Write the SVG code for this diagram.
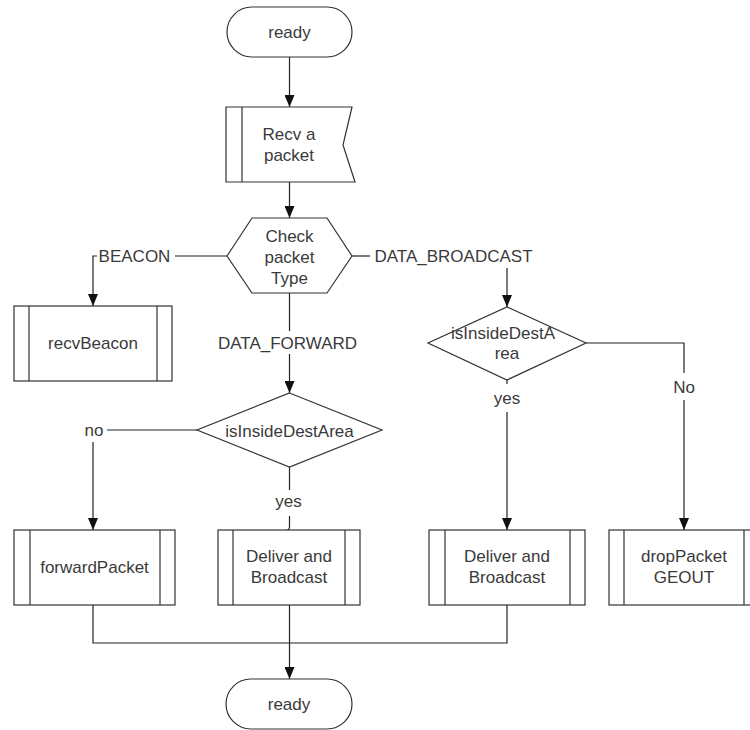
<svg xmlns="http://www.w3.org/2000/svg" width="750" height="730" viewBox="0 0 750 730">
  <style>
    .shape { fill: #ffffff; stroke: #333333; stroke-width: 1.2; }
    .inner { fill: none; stroke: #333333; stroke-width: 1.2; }
    .wire { fill: none; stroke: #222222; stroke-width: 1.2; }
    text { font-family: "Liberation Sans", Arial, sans-serif; font-size: 17px; fill: #3a3a3a; text-anchor: middle; }
  </style>
  <defs>
    <marker id="down" markerUnits="userSpaceOnUse" markerWidth="10" markerHeight="12" viewBox="0 0 10 12" refX="5" refY="12" orient="0">
      <path d="M0,0 L10,0 L5,12 Z" fill="#111111"/>
    </marker>
  </defs>

  <rect width="750" height="730" fill="#ffffff"/>

  <!-- connectors -->
  <g id="connectors">
    <path class="wire" d="M289.5,57 V107" marker-end="url(#down)"/>
    <path class="wire" d="M289.5,182 V218" marker-end="url(#down)"/>
    <!-- BEACON branch -->
    <path class="wire" d="M227,256 H175"/>
    <path class="wire" d="M97,256 H93 V306" marker-end="url(#down)"/>
    <!-- DATA_BROADCAST branch -->
    <path class="wire" d="M352,256 H370"/>
    <path class="wire" d="M507,268 V307" marker-end="url(#down)"/>
    <!-- DATA_FORWARD branch -->
    <path class="wire" d="M289.5,293 V331"/>
    <path class="wire" d="M289.5,354 V393" marker-end="url(#down)"/>
    <!-- no -->
    <path class="wire" d="M197,430 H107"/>
    <path class="wire" d="M93,442 V530" marker-end="url(#down)"/>
    <!-- yes (left) -->
    <path class="wire" d="M289.5,467 V490"/>
    <path class="wire" d="M289.5,516 V527 Q289.5,530.5 285,530.5"/>
    <!-- yes (right) -->
    <path class="wire" d="M507,380 V384"/>
    <path class="wire" d="M507,412 V530" marker-end="url(#down)"/>
    <!-- No (right) -->
    <path class="wire" d="M586,343 H684 V373"/>
    <path class="wire" d="M684,400 V530" marker-end="url(#down)"/>
    <!-- merge to ready -->
    <path class="wire" d="M93,605 V643 H507 V605"/>
    <path class="wire" d="M289.5,605 V679" marker-end="url(#down)"/>
  </g>

  <!-- connector labels -->
  <g id="labels">
    <text x="134.5" y="262">BEACON</text>
    <text x="453.5" y="262">DATA_BROADCAST</text>
    <text x="287.5" y="348.5">DATA_FORWARD</text>
    <text x="94" y="436">no</text>
    <text x="288.5" y="507">yes</text>
    <text x="507" y="404">yes</text>
    <text x="684" y="393">No</text>
  </g>

  <g id="ready-start">
    <rect class="shape" x="227" y="7" width="125" height="50" rx="25"/>
    <text x="289.5" y="38">ready</text>
  </g>

  <g id="recv-packet">
    <path class="shape" d="M226,107 H352 L343,145 L355,182 H226 Z"/>
    <line class="inner" x1="242" y1="107" x2="242" y2="182"/>
    <text x="289" y="140">Recv a</text>
    <text x="289" y="161">packet</text>
  </g>

  <g id="check-type">
    <path class="shape" d="M227,256 L252,218 H327 L352,256 L327,293 H252 Z"/>
    <text x="289.5" y="241.5">Check</text>
    <text x="289.5" y="262.5">packet</text>
    <text x="289.5" y="283.5">Type</text>
  </g>

  <g id="recv-beacon">
    <rect class="shape" x="14" y="306" width="158" height="75"/>
    <line class="inner" x1="29" y1="306" x2="29" y2="381"/>
    <line class="inner" x1="157" y1="306" x2="157" y2="381"/>
    <text x="93" y="349">recvBeacon</text>
  </g>

  <g id="inside-forward">
    <path class="shape" d="M289.5,393 L382,430 L289.5,467 L197,430 Z"/>
    <text x="289.5" y="437">isInsideDestArea</text>
  </g>

  <g id="inside-broadcast">
    <path class="shape" d="M507,307 L586,343 L507,380 L428,343 Z"/>
    <text x="503" y="339">isInsideDestA</text>
    <text x="507" y="359">rea</text>
  </g>

  <g id="forward-packet">
    <rect class="shape" x="14" y="530" width="161" height="75"/>
    <line class="inner" x1="30" y1="530" x2="30" y2="605"/>
    <line class="inner" x1="160" y1="530" x2="160" y2="605"/>
    <text x="94.5" y="573">forwardPacket</text>
  </g>

  <g id="deliver-forward">
    <rect class="shape" x="218" y="530" width="142" height="75"/>
    <line class="inner" x1="233" y1="530" x2="233" y2="605"/>
    <line class="inner" x1="345" y1="530" x2="345" y2="605"/>
    <text x="289" y="562">Deliver and</text>
    <text x="289" y="583">Broadcast</text>
  </g>

  <g id="deliver-broadcast">
    <rect class="shape" x="429" y="530" width="156" height="75"/>
    <line class="inner" x1="445" y1="530" x2="445" y2="605"/>
    <line class="inner" x1="570" y1="530" x2="570" y2="605"/>
    <text x="507" y="562">Deliver and</text>
    <text x="507" y="583">Broadcast</text>
  </g>

  <g id="drop-packet">
    <rect class="shape" x="609" y="530" width="150" height="75"/>
    <line class="inner" x1="624" y1="530" x2="624" y2="605"/>
    <line class="inner" x1="744" y1="530" x2="744" y2="605"/>
    <text x="684" y="562">dropPacket</text>
    <text x="684" y="583">GEOUT</text>
  </g>

  <g id="ready-end">
    <rect class="shape" x="226" y="679" width="126" height="50" rx="25"/>
    <text x="289" y="710">ready</text>
  </g>
</svg>
